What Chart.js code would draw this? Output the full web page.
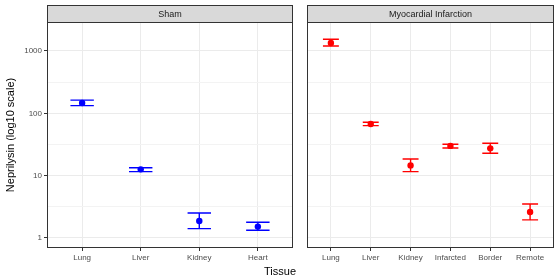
<!DOCTYPE html>
<html>
<head>
<meta charset="utf-8">
<script src="https://cdn.jsdelivr.net/npm/chart.js@4.4.1/dist/chart.umd.min.js"></script>
<style>
    html, body { margin: 0; padding: 0; background: #fff; }
    #wrap { position: relative; width: 560px; height: 280px; }
    #wrap canvas { position: absolute; left: 0; top: 0; }
</style>
</head>
<body>
<div id="wrap">
    <canvas id="shamChart" width="560" height="280"></canvas>
    <canvas id="miChart" width="560" height="280"></canvas>
</div>
<script>
// Sham panel
const shamTissues = ["Lung", "Liver", "Kidney", "Heart"];
const shamMean = [146, 12.6, 1.87, 1.52];
const shamLow = [133, 11.6, 1.41, 1.33];
const shamHigh = [163, 13.4, 2.52, 1.79];

// Myocardial infarction panel
const miTissues = ["Lung", "Liver", "Kidney", "Infarcted", "Border", "Remote"];
const miMean = [1344, 67.3, 14.6, 30.0, 27.4, 2.61];
const miLow = [1203, 63.4, 11.6, 27.8, 22.8, 1.95];
const miHigh = [1541, 71.7, 18.5, 31.9, 33.0, 3.51];

// y axis (log10)
const yMajorTicks = [1, 10, 100, 1000];
const yMinorTicks = [3.162, 31.62, 316.2];
const yMin = 0.69;
const yMax = 2917;

Chart.defaults.font.family = '"Liberation Sans", Arial, sans-serif';

const PANEL_TOP = 22;
const PANEL_BOTTOM = 248;
const STRIP_TOP = 5;

/**
 * Draws error bars, panel border and the facet strip
 */
const facetPlugin = {
    id: "facet",
    beforeDatasetsDraw(chart) {
        const { ctx } = chart;
        const cfg = chart.options.plugins.facet;
        const xs = chart.scales.x;
        const ys = chart.scales.y;
        ctx.save();
        ctx.strokeStyle = cfg.color;
        ctx.lineWidth = 1.4;
        cfg.low.forEach((lo, i) => {
            const x0 = xs.getPixelForValue(i - 0.2);
            const x1 = xs.getPixelForValue(i + 0.2);
            const xc = xs.getPixelForValue(i);
            const yl = ys.getPixelForValue(lo);
            const yh = ys.getPixelForValue(cfg.high[i]);
            ctx.beginPath();
            ctx.moveTo(x0, yh);
            ctx.lineTo(x1, yh);
            ctx.moveTo(x0, yl);
            ctx.lineTo(x1, yl);
            ctx.moveTo(xc, yh);
            ctx.lineTo(xc, yl);
            ctx.stroke();
        });
        ctx.restore();
    },
    afterDraw(chart) {
        const { ctx, chartArea } = chart;
        const cfg = chart.options.plugins.facet;
        const l = Math.round(chartArea.left) + 0.5;
        const r = Math.round(chartArea.right) - 0.5;
        ctx.save();
        ctx.strokeStyle = "#333333";
        ctx.lineWidth = 1;
        // panel border
        ctx.strokeRect(l, Math.round(chartArea.top) + 0.5, r - l, Math.round(chartArea.bottom) - Math.round(chartArea.top) - 1);
        // strip
        ctx.fillStyle = "#D9D9D9";
        ctx.fillRect(l, STRIP_TOP + 0.5, r - l, PANEL_TOP - STRIP_TOP);
        ctx.strokeRect(l, STRIP_TOP + 0.5, r - l, PANEL_TOP - STRIP_TOP);
        ctx.fillStyle = "#1A1A1A";
        ctx.font = '9px "Liberation Sans", Arial, sans-serif';
        ctx.textAlign = "center";
        ctx.textBaseline = "middle";
        ctx.fillText(cfg.strip, (l + r) / 2, (STRIP_TOP + PANEL_TOP) / 2 + 1);
        if (cfg.xTitle) {
            ctx.fillStyle = "#000000";
            ctx.font = '11px "Liberation Sans", Arial, sans-serif';
            ctx.fillText(cfg.xTitle, 280, 272);
        }
        ctx.restore();
    },
};

function isMajor(v) {
    return yMajorTicks.some((m) => Math.abs(m - v) < 1e-6);
}

/**
 * Build one facet panel
 */
function makePanel(canvasId, opts) {
    const n = opts.tissues.length;
    return new Chart(document.getElementById(canvasId), {
        type: "scatter",
        data: {
            datasets: [
                {
                    data: opts.mean.map((v, i) => ({ x: i, y: v })),
                    backgroundColor: opts.color,
                    borderColor: opts.color,
                    pointRadius: 3.2,
                    pointHoverRadius: 3.2,
                    borderWidth: 0,
                },
            ],
        },
        options: {
            responsive: false,
            animation: false,
            events: [],
            layout: {
                padding: { left: opts.padLeft, right: opts.padRight, top: PANEL_TOP, bottom: 0 },
            },
            plugins: {
                legend: { display: false },
                tooltip: { enabled: false },
                facet: {
                    color: opts.color,
                    low: opts.low,
                    high: opts.high,
                    strip: opts.strip,
                    xTitle: opts.xTitle,
                },
            },
            scales: {
                x: {
                    type: "linear",
                    min: -0.6,
                    max: n - 0.4,
                    afterBuildTicks: (scale) => {
                        scale.ticks = opts.tissues.map((_, i) => ({ value: i }));
                    },
                    afterFit: (scale) => {
                        scale.height = 280 - PANEL_BOTTOM;
                    },
                    border: { display: false },
                    grid: {
                        color: "#EBEBEB",
                        lineWidth: 1,
                        tickColor: "#333333",
                        tickLength: 3,
                    },
                    ticks: {
                        autoSkip: false,
                        maxRotation: 0,
                        padding: 2,
                        color: "#4D4D4D",
                        font: { size: 8 },
                        callback: (v) => opts.tissues[v],
                    },
                },
                y: {
                    type: "logarithmic",
                    min: yMin,
                    max: yMax,
                    afterBuildTicks: (scale) => {
                        scale.ticks = [...yMajorTicks, ...yMinorTicks]
                            .sort((a, b) => a - b)
                            .map((v) => ({ value: v }));
                    },
                    afterFit: (scale) => {
                        scale.width = opts.yWidth;
                    },
                    border: { display: false },
                    title: {
                        display: opts.showY,
                        text: "Neprilysin (log10 scale)",
                        color: "#000000",
                        font: { size: 11 },
                        padding: { top: 4, bottom: 0 },
                    },
                    grid: {
                        color: (c) => (isMajor(c.tick.value) ? "#EBEBEB" : "#F3F3F3"),
                        lineWidth: 1,
                        drawTicks: opts.showY,
                        tickColor: (c) => (isMajor(c.tick.value) ? "#333333" : "rgba(0,0,0,0)"),
                        tickLength: 3,
                    },
                    ticks: {
                        display: opts.showY,
                        padding: 2,
                        color: "#4D4D4D",
                        font: { size: 8 },
                        callback: (v) => (isMajor(v) ? String(v) : ""),
                    },
                },
            },
        },
        plugins: [facetPlugin],
    });
}

makePanel("shamChart", {
    tissues: shamTissues,
    mean: shamMean,
    low: shamLow,
    high: shamHigh,
    color: "#0000FF",
    strip: "Sham",
    xTitle: "Tissue",
    showY: true,
    yWidth: 47,
    padLeft: 0,
    padRight: 560 - 293,
});

makePanel("miChart", {
    tissues: miTissues,
    mean: miMean,
    low: miLow,
    high: miHigh,
    color: "#FF0000",
    strip: "Myocardial Infarction",
    xTitle: null,
    showY: false,
    yWidth: 0,
    padLeft: 307,
    padRight: 560 - 554,
});
</script>
</body>
</html>
